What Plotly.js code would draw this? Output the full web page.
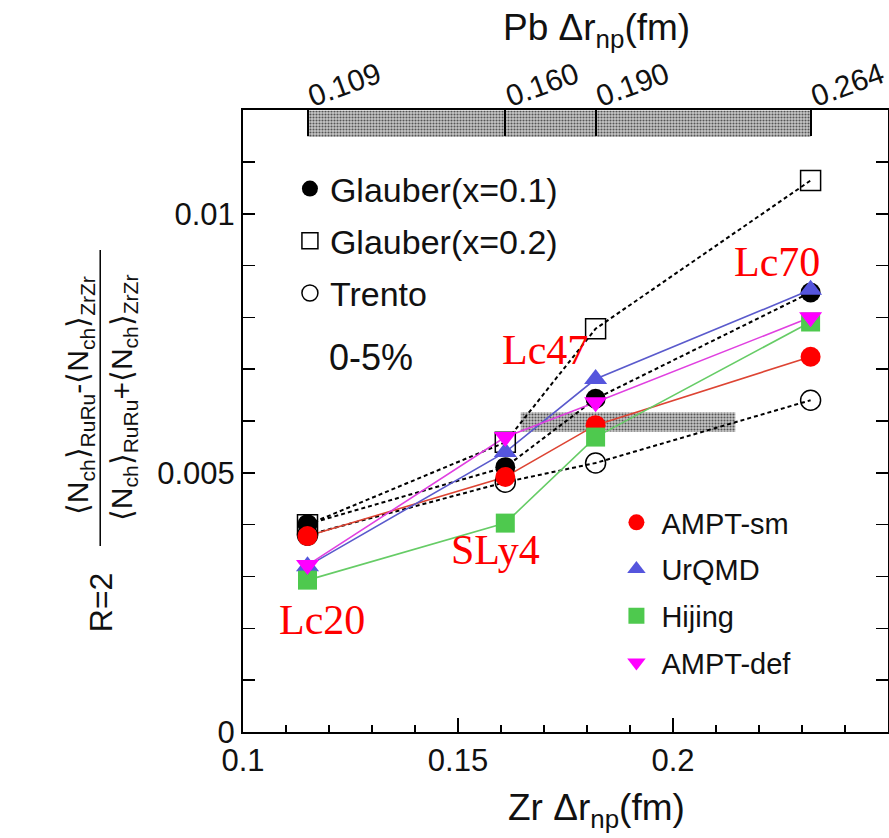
<!DOCTYPE html>
<html>
<head>
<meta charset="utf-8">
<script src="https://cdn.plot.ly/plotly-3.0.1.min.js"></script>
<style>html,body{margin:0;padding:0;background:#fff;}#chart{width:889px;height:838px;}</style>
</head>
<body>
<div id="chart"></div>
<script>
// ---- data ----
const zrDrnp = [0.115, 0.161, 0.182, 0.232];
const pbDrnpLabels = ['0.109', '0.160', '0.190', '0.264'];
const eosLabels = ['Lc20', 'SLy4', 'Lc47', 'Lc70'];

const glauber01 = [0.00401, 0.00511, 0.00643, 0.00848];
const glauber02 = [0.00400, 0.00559, 0.00778, 0.01064];
const trento    = [0.00380, 0.00482, 0.00519, 0.00640];
const amptSm    = [0.00378, 0.00492, 0.00592, 0.00724];
const urqmd     = [0.00320, 0.00540, 0.00681, 0.00853];
const hijing    = [0.00293, 0.00403, 0.00569, 0.00791];
const amptDef   = [0.00322, 0.00569, 0.00636, 0.00800];

// shaded bands (x range, y range)
const topBandX = [0.115, 0.232];
const topBandY = [0.01148, 0.01199];
const midBandX = [0.1646, 0.2145];
const midBandY = [0.00579, 0.00617];

const FONT = 'Liberation Sans, Arial, sans-serif';
const SERIF = 'Liberation Serif, Times New Roman, serif';

function band(xr, yr) {
  return {
    x: [xr[0], xr[1], xr[1], xr[0], xr[0]],
    y: [yr[0], yr[0], yr[1], yr[1], yr[0]],
    mode: 'lines', fill: 'toself', line: {width: 0},
    fillcolor: '#b8b8b8',
    fillpattern: {shape: '.', fgcolor: '#555', bgcolor: '#c8c8c8', size: 3, solidity: 0.4},
    showlegend: false, hoverinfo: 'skip'
  };
}

const series = [
  {name: 'Glauber(x=0.1)', y: glauber01, lc: '#000', lw: 2, dash: '4px,3px', sym: 'circle', mc: '#000', size: 20, lg: 'legend'},
  {name: 'Glauber(x=0.2)', y: glauber02, lc: '#000', lw: 2, dash: '4px,3px', sym: 'square-open', mc: '#000', size: 20, lg: 'legend'},
  {name: 'Trento', y: trento, lc: '#000', lw: 2, dash: '4px,3px', sym: 'circle-open', mc: '#000', size: 20, lg: 'legend'},
  {name: 'AMPT-sm', y: amptSm, lc: '#dd4433', lw: 1.6, dash: 'solid', sym: 'circle', mc: '#ff0000', size: 20, lg: 'legend2'},
  {name: 'UrQMD', y: urqmd, lc: '#5a5acc', lw: 1.6, dash: 'solid', sym: 'triangle-up', mc: '#5555dd', size: 20, lg: 'legend2'},
  {name: 'Hijing', y: hijing, lc: '#66cc66', lw: 1.6, dash: 'solid', sym: 'square', mc: '#4ec94e', size: 19, lg: 'legend2'},
  {name: 'AMPT-def', y: amptDef, lc: '#e040e0', lw: 1.6, dash: 'solid', sym: 'triangle-down', mc: '#ff00ff', size: 20, lg: 'legend2'}
];

const traces = [band(topBandX, topBandY), band(midBandX, midBandY)];
series.forEach(s => {
  traces.push({x: zrDrnp, y: s.y, mode: 'lines', line: {color: s.lc, width: s.lw, dash: s.dash}, showlegend: false, hoverinfo: 'skip'});
});
series.forEach((s, i) => {
  traces.push({x: zrDrnp, y: s.y, mode: 'markers', name: s.name, legend: s.lg, legendgroup: 'g' + i,
    marker: {symbol: s.sym, color: s.mc, size: s.size, line: {color: s.mc, width: s.sym.indexOf('open') >= 0 ? 1.5 : 0}}});
});
// top axis carrier
traces.push({x: zrDrnp, y: [null, null, null, null], xaxis: 'x2', yaxis: 'y', mode: 'markers', showlegend: false, hoverinfo: 'skip'});

const L = 243, W = 646, B = 732, H = 622;
const px = v => (v - L) / W;
const py = v => (B - v) / H;

function note(x, y, text, font, extra) {
  return Object.assign({xref: 'paper', yref: 'paper', x: px(x), y: py(y), text: text, showarrow: false,
    font: font, xanchor: 'center', yanchor: 'middle'}, extra || {});
}
const red = {size: 42, family: SERIF, color: '#ff0000'};

const layout = {
  width: 889, height: 838,
  margin: {l: 243, r: 1, t: 110, b: 106},
  paper_bgcolor: '#fff', plot_bgcolor: '#fff',
  font: {family: FONT, color: '#111', size: 30},
  xaxis: {
    range: [0.1, 0.25], tickvals: [0.1, 0.15, 0.2], ticktext: ['0.1', '0.15', '0.2'],
    ticks: 'inside', ticklen: 14, tickwidth: 2, tickcolor: '#000',
    minor: {dtick: 0.01, ticks: 'inside', ticklen: 7, tickwidth: 1.5, tickcolor: '#000'},
    showline: true, linecolor: '#000', linewidth: 2, showgrid: false, zeroline: false,
    tickfont: {size: 31}
  },
  xaxis2: {
    overlaying: 'x', side: 'top', range: [0.1, 0.25], tickvals: zrDrnp, ticktext: pbDrnpLabels,
    ticks: 'inside', ticklen: 26, tickwidth: 2, tickcolor: '#000', tickangle: -20,
    ticklabeloverflow: 'allow', ticklabelstandoff: -12,
    showline: true, linecolor: '#000', linewidth: 2, showgrid: false, zeroline: false,
    tickfont: {size: 30}
  },
  yaxis: {
    range: [0, 0.012], tickvals: [0, 0.005, 0.01], ticktext: ['0', '0.005', '0.01'],
    ticks: 'inside', ticklen: 12, tickwidth: 2, tickcolor: '#000', mirror: 'allticks',
    minor: {dtick: 0.001, ticks: 'inside', ticklen: 8, tickwidth: 1.5, tickcolor: '#000'},
    showline: true, linecolor: '#000', linewidth: 2, showgrid: false, zeroline: false,
    tickfont: {size: 31}
  },
  legend: {
    x: px(290), y: py(160), xanchor: 'left', yanchor: 'top',
    bgcolor: 'rgba(0,0,0,0)', font: {size: 34, family: FONT},
    traceorder: 'grouped', tracegroupgap: 5, itemwidth: 30
  },
  legend2: {
    x: px(612), y: py(497), xanchor: 'left', yanchor: 'top',
    bgcolor: 'rgba(0,0,0,0)', font: {size: 29, family: FONT},
    traceorder: 'grouped', tracegroupgap: 6, itemwidth: 40
  },
  shapes: [
    {type: 'line', xref: 'paper', yref: 'paper', x0: px(100), x1: px(100), y0: py(250), y1: py(546), line: {color: '#000', width: 1.5}}
  ],
  annotations: [
    note(597, 30, 'Pb Δr<sub>np</sub>(fm)', {size: 37}),
    note(597, 810, 'Zr Δr<sub>np</sub>(fm)', {size: 37}),
    note(101, 602, 'R=2', {size: 32}, {textangle: -90}),
    note(79, 396, '⟨N<sub>ch</sub>⟩<sub>RuRu</sub>-⟨N<sub>ch</sub>⟩<sub>ZrZr</sub>', {size: 30}, {textangle: -90}),
    note(123, 398, '⟨N<sub>ch</sub>⟩<sub>RuRu</sub>+⟨N<sub>ch</sub>⟩<sub>ZrZr</sub>', {size: 30}, {textangle: -90}),
    note(371, 357, '0-5%', {size: 36}),
    note(322, 620, eosLabels[0], red),
    note(496, 550, eosLabels[1], red),
    note(545, 350, eosLabels[2], red),
    note(778, 262, eosLabels[3], red)
  ]
};

Plotly.newPlot('chart', traces, layout, {displayModeBar: false, staticPlot: true});
</script>
</body>
</html>
